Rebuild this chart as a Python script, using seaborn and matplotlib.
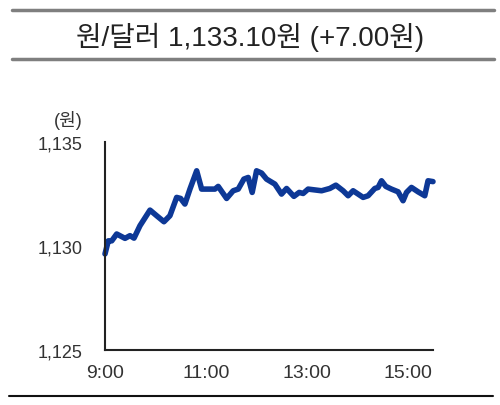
import seaborn as sns
import matplotlib.pyplot as plt
import pandas as pd

# minutes after 9:00 and won/dollar rate
minutes = [0, 3.9, 8.0, 13.9, 23.8, 29.7, 34.5, 41.6, 53.5, 61.4, 70.1, 77.2,
           85.2, 89.9, 95.0, 101.0, 109.0, 114.9, 130.7, 134.6, 144.6, 152.4,
           158.4, 165.1, 170.3, 175.0, 180.2, 186.2, 192.1, 202.0, 209.9, 215.9,
           224.6, 230.9, 235.6, 241.5, 257.5, 267.3, 274.5, 283.1, 289.1, 295.0,
           306.9, 312.8, 320.8, 324.7, 328.8, 333.9, 340.6, 348.5, 354.4, 358.5,
           364.4, 372.2, 380.2, 384.1, 390.0]
rate = [1129.62, 1130.25, 1130.25, 1130.58, 1130.37, 1130.50, 1130.38, 1130.98,
        1131.73, 1131.46, 1131.17, 1131.46, 1132.34, 1132.29, 1132.02, 1132.74,
        1133.62, 1132.74, 1132.74, 1132.87, 1132.29, 1132.66, 1132.74, 1133.22,
        1133.30, 1132.58, 1133.62, 1133.51, 1133.22, 1132.98, 1132.50, 1132.77,
        1132.39, 1132.58, 1132.53, 1132.74, 1132.66, 1132.77, 1132.93, 1132.66,
        1132.42, 1132.66, 1132.34, 1132.42, 1132.77, 1132.82, 1133.14, 1132.87,
        1132.74, 1132.61, 1132.18, 1132.58, 1132.82, 1132.61, 1132.42, 1133.14,
        1133.10]
x_ticks = [0, 60, 120, 180, 240, 300, 360]
x_labels = ['9:00', '', '11:00', '', '13:00', '', '15:00']
y_ticks = [1125, 1130, 1135]
y_labels = ['1,125', '1,130', '1,135']
title = '원/달러 1,133.10원 (+7.00원)'

df = pd.DataFrame({'min': minutes, 'rate': rate})

sns.set_style('white')
plt.rcParams['font.family'] = ['Liberation Sans', 'Noto Sans CJK KR', 'DejaVu Sans']

fig = plt.figure(figsize=(5, 4.06), dpi=100)
ax = fig.add_axes([0.21, 0.1355, 0.656, 0.512])

sns.lineplot(x='min', y='rate', data=df, color='#0d3896', linewidth=4,
             ax=ax, solid_joinstyle='round', solid_capstyle='round')

ax.set_xlim(0, 390)
ax.set_ylim(1125, 1135)
ax.set_xticks(x_ticks)
ax.set_xticklabels(x_labels)
ax.set_yticks(y_ticks)
ax.set_yticklabels(y_labels)
ax.set_xlabel('')
ax.set_ylabel('')
for s in ['top', 'right']:
    ax.spines[s].set_visible(False)
for s in ['left', 'bottom']:
    ax.spines[s].set_color('#222222')
    ax.spines[s].set_linewidth(1.5)
ax.tick_params(axis='both', direction='in', length=5, width=1.3,
               color='#222222', labelcolor='#333333')
ax.tick_params(axis='y', pad=16, labelsize=13)
ax.tick_params(axis='x', pad=10, labelsize=14)
for ln in ax.lines:
    ln.set_clip_on(False)

fig.text(68 / 500, 1 - 121 / 406, '(원)', ha='center', va='center',
         fontsize=13, color='#333333')
fig.text(0.5, 1 - 37 / 406, title, ha='center', va='center',
         fontsize=20, color='#222222')

# horizontal rules framing the chart
fig.add_artist(plt.Line2D([12 / 500, 494 / 500], [1 - 10.5 / 406] * 2,
                          color='#7f7f7f', linewidth=2.5))
fig.add_artist(plt.Line2D([12 / 500, 494 / 500], [1 - 59.5 / 406] * 2,
                          color='#7f7f7f', linewidth=2.5))
fig.add_artist(plt.Line2D([9 / 500, 493 / 500], [1 - 397 / 406] * 2,
                          color='#111111', linewidth=1.5))

fig.savefig('out.png', dpi=100)
